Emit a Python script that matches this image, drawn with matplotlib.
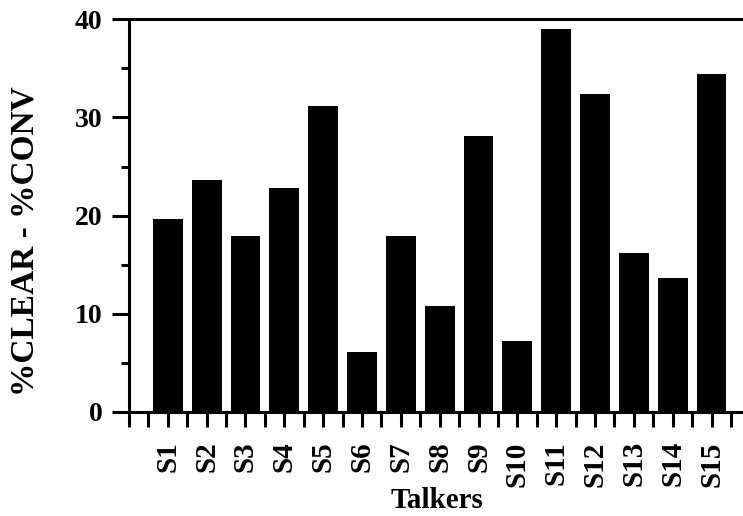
import matplotlib.pyplot as plt
from matplotlib.ticker import MultipleLocator

# intelligibility gain (clear minus conversational) per talker
talkers = ['S1', 'S2', 'S3', 'S4', 'S5', 'S6', 'S7', 'S8',
           'S9', 'S10', 'S11', 'S12', 'S13', 'S14', 'S15']
diff_values = [19.7, 23.6, 17.9, 22.8, 31.2, 6.1, 17.9, 10.8,
               28.1, 7.2, 39.0, 32.4, 16.2, 13.6, 34.4]

plt.rcParams['font.family'] = ['Liberation Serif', 'DejaVu Serif']
plt.rcParams['font.weight'] = 'bold'

fig = plt.figure(figsize=(7.43, 5.16), dpi=100)
ax = fig.add_axes([0.1736, 0.2016, 0.8264, 0.761])

pos = list(range(1, len(talkers) + 1))
ax.bar(pos, diff_values, width=0.77, color='black')

ax.set_xlim(0, 15.81)
ax.set_ylim(0, 40)

lw = 2.2
for side in ['left', 'bottom', 'top']:
    ax.spines[side].set_linewidth(lw)
ax.spines['right'].set_visible(False)

# y axis: major every 10, minor every 5
ax.yaxis.set_major_locator(MultipleLocator(10))
ax.yaxis.set_minor_locator(MultipleLocator(5))
ax.tick_params(axis='y', which='major', direction='out', length=12, width=lw,
               labelsize=20, pad=7)
ax.tick_params(axis='y', which='minor', direction='out', length=6, width=lw)

# x axis: a tick under each bar and one between bars
ax.set_xticks(pos)
ax.set_xticklabels(talkers, rotation=90, fontsize=21, fontweight='bold')
ax.xaxis.set_minor_locator(MultipleLocator(0.5))
ax.tick_params(axis='x', which='both', direction='out', length=11, width=lw,
               pad=10)

for lbl in ax.get_yticklabels():
    lbl.set_fontweight('bold')

fig.text(25 / 743, 1 - 241.5 / 516, '%CLEAR - %CONV', rotation=90,
         ha='center', va='center', fontsize=24, fontweight='bold')
fig.text(437 / 743, 1 - 500 / 516, 'Talkers', ha='center', va='center',
         fontsize=21, fontweight='bold')

fig.savefig('out.png', dpi=100)
